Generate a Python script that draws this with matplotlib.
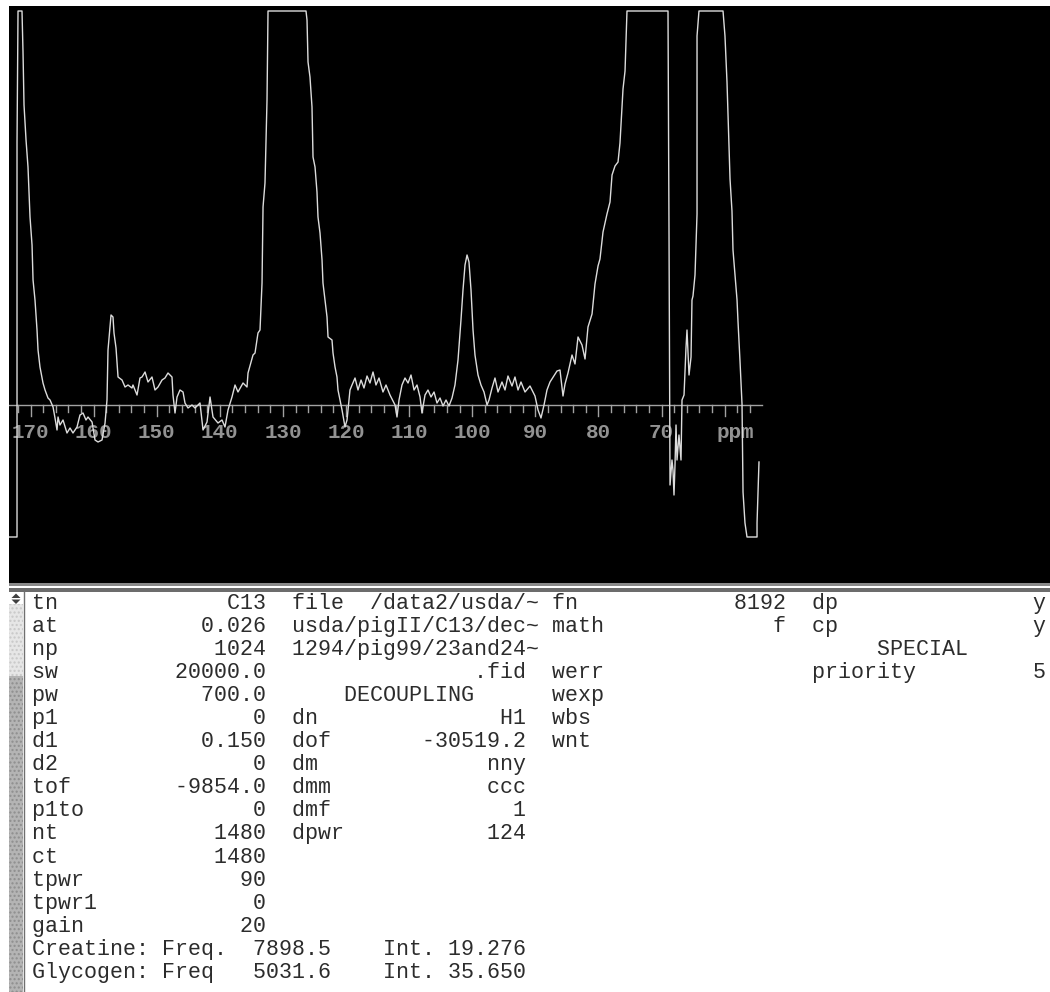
import matplotlib
matplotlib.use("Agg")
import matplotlib.pyplot as plt
from matplotlib.patches import Rectangle, Polygon
import numpy as np

# spectrum (ppm, intensity in display units; clipped at the screen limits)
ppm = [173.41, 172.14, 172.14, 171.98, 171.35, 171.19, 171.03, 170.71, 170.40, 170.08,
       169.76, 169.60, 169.29, 168.97, 168.81, 168.50, 168.02, 167.70, 167.23, 166.91,
       166.43, 166.12, 165.80, 165.64, 165.33, 164.85, 164.22, 163.74, 163.27, 162.63,
       162.16, 161.68, 161.21, 160.89, 160.25, 159.78, 159.30, 158.67, 158.19, 157.88,
       157.72, 157.24, 156.93, 156.77, 156.45, 156.13, 155.50, 155.02, 154.55, 153.92,
       153.76, 153.12, 152.65, 152.33, 151.85, 151.38, 150.75, 150.27, 149.79, 149.16,
       148.69, 148.21, 147.58, 147.42, 147.10, 146.78, 146.31, 145.83, 145.52, 145.04,
       144.41, 143.93, 143.14, 142.66, 142.03, 141.55, 141.08, 140.29, 139.65, 139.18,
       138.70, 138.07, 137.59, 137.12, 136.32, 135.69, 135.53, 134.74, 134.42, 133.95,
       133.63, 133.31, 133.15, 132.84, 132.52, 132.36, 126.34, 126.18, 126.02, 125.71,
       125.39, 125.23, 124.91, 124.60, 124.44, 124.12, 123.80, 123.65, 123.01, 122.85,
       122.22, 122.06, 121.74, 121.43, 121.27, 120.63, 120.16, 119.84, 119.68, 119.37,
       119.05, 118.57, 118.10, 117.62, 117.15, 116.67, 116.20, 115.72, 115.25, 114.77,
       114.14, 113.66, 113.03, 112.23, 111.92, 111.60, 111.13, 110.65, 110.17, 109.70,
       109.22, 108.75, 108.27, 107.96, 107.48, 107.01, 106.53, 106.05, 105.58, 105.10,
       104.63, 104.15, 103.68, 103.20, 102.73, 102.25, 101.78, 101.46, 101.14, 100.82,
       100.51, 100.19, 99.87, 99.56, 99.08, 98.61, 98.13, 97.65, 97.34, 96.86,
       96.39, 95.91, 95.28, 94.80, 94.33, 93.69, 93.22, 92.74, 92.27, 91.63,
       90.84, 90.05, 89.57, 89.10, 88.62, 88.15, 87.67, 86.56, 86.09, 85.61,
       85.29, 84.82, 84.18, 83.71, 83.23, 82.60, 82.12, 81.65, 81.01, 80.54,
       80.06, 79.75, 79.27, 78.64, 78.16, 77.84, 77.37, 76.89, 76.58, 76.26,
       76.10, 75.78, 75.47, 68.97, 68.81, 68.65, 68.34, 68.18, 68.02, 67.86,
       67.70, 67.54, 67.23, 66.91, 66.75, 66.43, 66.12, 65.96, 65.64, 65.32,
       65.17, 65.01, 64.69, 64.37, 64.37, 64.06, 60.25, 59.94, 59.62, 59.46,
       59.14, 58.83, 58.67, 58.03, 57.88, 57.56, 57.24, 57.08, 56.77, 56.45,
       54.86, 54.86, 54.55]
intensity = [-132, -132, 262, 394, 394, 353, 300, 265, 238, 188,
             160, 125, 105, 75, 55, 38, 22, 15, 7, 5,
             -2, -13, -25, -12, -20, -15, -28, -23, -28, -22,
             -10, -8, -15, -12, -17, -35, -37, -35, -18, 5,
             55, 90, 88, 72, 57, 28, 25, 18, 20, 17,
             20, 10, 27, 28, 33, 23, 28, 15, 18, 25,
             27, 32, 28, 10, -8, 8, 15, 13, 2, -3,
             0, -3, 2, -25, -17, 8, -12, -18, -15, -22,
             -5, 8, 20, 13, 22, 18, 32, 50, 52, 72,
             75, 122, 198, 222, 305, 394, 394, 385, 343, 328,
             298, 248, 238, 213, 188, 172, 145, 122, 88, 68,
             65, 52, 38, 28, 15, -5, -22, -15, -5, 15,
             20, 27, 15, 25, 17, 29, 22, 33, 20, 27,
             13, 20, 10, 0, -12, 5, 20, 27, 22, 30,
             15, 20, 8, -8, 10, 15, 8, 13, 2, 7,
             -1, 5, -1, 7, 20, 45, 85, 115, 140, 150,
             143, 115, 75, 50, 30, 20, 13, 0, 5, 17,
             27, 13, 23, 15, 29, 19, 28, 15, 23, 13,
             19, 9, -5, -13, 0, 15, 23, 34, 35, 9,
             21, 32, 50, 41, 68, 60, 46, 78, 91, 121,
             139, 146, 173, 191, 203, 230, 239, 243, 262, 298,
             316, 334, 394, 394, 171, -80, -55, -65, -90, -60,
             -20, -55, -30, -55, 5, 10, 57, 75, 30, 48,
             105, 109, 130, 191, 369, 394, 394, 369, 323, 291,
             226, 194, 155, 105, 84, 44, 1, -87, -118, -132,
             -132, -118, -57]

tick_labels = [170, 160, 150, 140, 130, 120, 110, 100, 90, 80, 70]
axis_start, axis_end = 173.41, 54.07

# parameter listing under the spectrum
col1_names = ["tn", "at", "np", "sw", "pw", "p1", "d1", "d2", "tof", "p1to",
              "nt", "ct", "tpwr", "tpwr1", "gain"]
col1_values = ["C13", "0.026", "1024", "20000.0", "700.0", "0", "0.150", "0",
               "-9854.0", "0", "1480", "1480", "90", "0", "20"]
col2_names = ["file", "", "", "", "DECOUPLING", "dn", "dof", "dm", "dmm", "dmf", "dpwr"]
col2_values = ["/data2/usda/~", "usda/pigII/C13/dec~", "1294/pig99/23and24~", ".fid",
               "", "H1", "-30519.2", "nny", "ccc", "1", "124"]
col3_names = ["fn", "math", "", "werr", "wexp", "wbs", "wnt"]
col3_values = ["8192", "f", "", "", "", "", ""]
col4_names = ["dp", "cp", "SPECIAL", "priority"]
col4_values = ["y", "y", "", "5"]
result_names = ["Creatine:", "Glycogen:"]
result_freq_labels = ["Freq.", "Freq"]
result_freqs = ["7898.5", "5031.6"]
result_ints = ["19.276", "35.650"]


def cell(name, value, width=18):
    if value == "" and name.isupper():
        return name.center(width)
    if value.endswith("~"):
        width += 1
    return name + value.rjust(width - len(name))


def get(lst, i):
    return lst[i] if i < len(lst) else ""


lines = []
for i in range(len(col1_names)):
    line = cell(col1_names[i], col1_values[i]) + "  "
    if i < len(col2_names):
        line += cell(col2_names[i], col2_values[i])
    line = line.ljust(40)
    if i < len(col3_names) and col3_names[i]:
        line += cell(col3_names[i], col3_values[i])
    line = line.ljust(60)
    if i < len(col4_names):
        line += cell(col4_names[i], col4_values[i])
    lines.append(line.rstrip())
for n, fl, fr, it in zip(result_names, result_freq_labels, result_freqs, result_ints):
    lines.append(f"{n} {fl:<5}  {fr}    Int. {it}")

W, H = 1050, 992
fig = plt.figure(figsize=(W / 100, H / 100), dpi=100, facecolor="white")

# background layer in pixel units: separator, scroll bar, listing
bg = fig.add_axes([0, 0, 1, 1])
bg.set_xlim(0, W)
bg.set_ylim(H, 0)
bg.axis("off")
bg.add_patch(Rectangle((9, 582), W - 9, 3.5, color="#8a8a8a", lw=0))
bg.add_patch(Rectangle((9, 587.5), W - 9, 4.5, color="#6c6c6c", lw=0))
bg.add_patch(Rectangle((9, 604), 14, 72, facecolor="#e6e6e6", edgecolor="#c8c8c8",
                       hatch="....", lw=0))
bg.add_patch(Rectangle((9, 676), 14, H - 676, facecolor="#b4b4b4", edgecolor="#8e8e8e",
                       hatch="....", lw=0))
bg.plot([23.5, 23.5], [592, H], color="#707070", lw=1.0)
bg.add_patch(Polygon([[11.5, 598], [20.5, 598], [16, 593.5]], color="#404040", lw=0))
bg.add_patch(Polygon([[11.5, 599.5], [20.5, 599.5], [16, 604]], color="#404040", lw=0))

mono = "Liberation Mono"
for r, line in enumerate(lines):
    bg.text(32, 608.5 + 23.1 * r, line, family=mono, fontsize=15.6, color="#2c2c2c",
            ha="left", va="baseline")

# spectrum screen
ax = fig.add_axes([9 / W, (H - 583) / H, (W - 9) / W, 577 / H])
ax.set_facecolor("black")
for s in ax.spines.values():
    s.set_visible(False)
ax.set_xticks([])
ax.set_yticks([])
ax.set_xlim(173.41, 8.43)
ax.set_ylim(-178, 399)

axis_col = "#a2a2a2"
ax.plot([axis_start, axis_end], [0, 0], color=axis_col, lw=1.0, zorder=2)
for t in range(172, 55, -2):
    depth = -11 if t % 10 == 0 else -7
    ax.plot([t, t], [0, depth], color=axis_col, lw=1.0, zorder=2)
for t in tick_labels:
    ax.text(t, -28, str(t), family=mono, fontweight="bold", fontsize=15, color="#929292",
            ha="center", va="center", zorder=2)
ax.text(58.35, -28, "ppm", family=mono, fontweight="bold", fontsize=15, color="#929292",
        ha="center", va="center", zorder=2)

ax.plot(ppm, np.clip(intensity, -132, 394), color="#dcdcdc", lw=1.0, zorder=3)

fig.savefig("out.png", dpi=100, facecolor="white")
